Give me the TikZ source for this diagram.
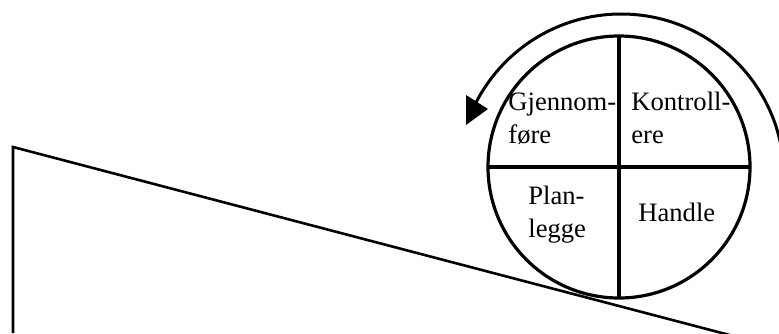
\documentclass[tikz,border=0pt]{standalone}
\usepackage{fontspec}
\setmainfont{Liberation Serif}
\usetikzlibrary{shapes.geometric}

\begin{document}
\begin{tikzpicture}[x=0.5pt,y=0.5pt,
        wheel/.style={circle,draw,line width=1.6pt,minimum size=131pt,inner sep=0pt,outer sep=0pt},
        spoke/.style={line width=2pt},
        quarter/.style={anchor=base west,align=left,inner sep=0pt,
                        font=\fontsize{13.3}{16.2}\selectfont},
        slope/.style={line width=1.3pt,line join=miter},
        turn/.style={line width=1.5pt}]
        % ramme for hele bildet
        \useasboundingbox (0,0) rectangle (779,333);
        \clip (0,0) rectangle (779,333);
        % bakken (skraaplanet)
        \coordinate (foot) at (13,0);
        \coordinate (top) at (13,186);
        \coordinate (low) at (779,-15);
        \draw[slope] (foot) -- (top) -- (low);
        % hjulet med fire felt
        \node[wheel] (hjul) at (619,166) {};
        \draw[spoke] (hjul.north) -- (hjul.south);
        \draw[spoke] (hjul.west) -- (hjul.east);
        % ankeret sitter paa siste linje
        \node[quarter] (gjennomfore) at (508,190) {Gjennom-\\f\o re};
        \node[quarter] (kontrollere) at (631,190) {Kontroll-\\ere};
        \node[quarter] (planlegge) at (528,96) {Plan-\\legge};
        \node[quarter] (handle) at (638,112) {Handle};
        % pila rundt hjulet
        \coordinate (midt) at (621,156);
        \draw[turn] ([shift={(5:81.5pt)}]midt) arc[start angle=5,end angle=153,radius=81.5pt];
        \fill (466,238) -- (488,224) -- (466,208) -- cycle;
\end{tikzpicture}
\end{document}
